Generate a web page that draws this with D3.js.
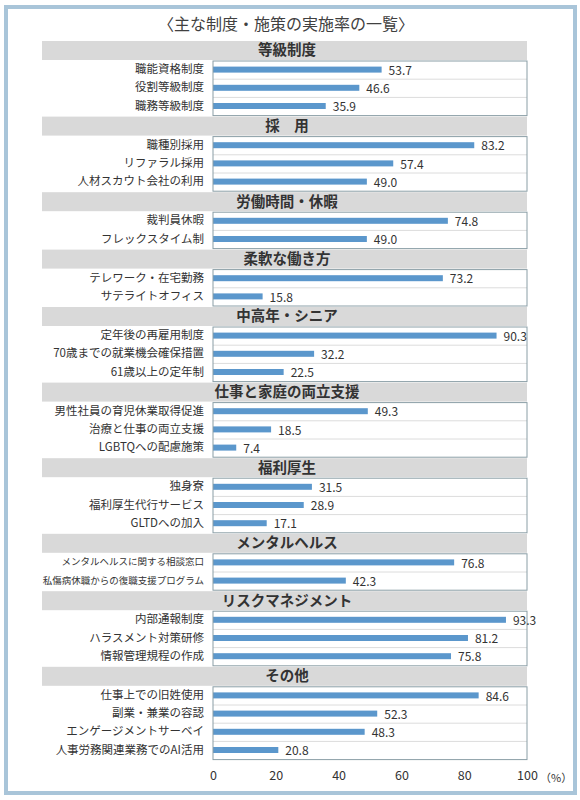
<!DOCTYPE html>
<html>
<head>
<meta charset="utf-8">
<script src="https://cdn.jsdelivr.net/npm/d3@7"></script>
<style>
  body { margin: 0; background: #fff; }
  svg text { font-family: "Noto Sans CJK JP", "Noto Sans", sans-serif; fill: #333; }
</style>
</head>
<body>
<div class="chart"></div>
<script>
var groupNames = ["等級制度", "採　用", "労働時間・休暇", "柔軟な働き方", "中高年・シニア",
  "仕事と家庭の両立支援", "福利厚生", "メンタルヘルス", "リスクマネジメント", "その他"];

var itemGroup = [0, 0, 0, 1, 1, 1, 2, 2, 3, 3, 4, 4, 4, 5, 5, 5, 6, 6, 6, 7, 7, 8, 8, 8, 9, 9, 9, 9];

var itemLabels = [
  "職能資格制度", "役割等級制度", "職務等級制度",
  "職種別採用", "リファラル採用", "人材スカウト会社の利用",
  "裁判員休暇", "フレックスタイム制",
  "テレワーク・在宅勤務", "サテライトオフィス",
  "定年後の再雇用制度", "70歳までの就業機会確保措置", "61歳以上の定年制",
  "男性社員の育児休業取得促進", "治療と仕事の両立支援", "LGBTQへの配慮施策",
  "独身寮", "福利厚生代行サービス", "GLTDへの加入",
  "メンタルヘルスに関する相談窓口", "私傷病休職からの復職支援プログラム",
  "内部通報制度", "ハラスメント対策研修", "情報管理規程の作成",
  "仕事上での旧姓使用", "副業・兼業の容認", "エンゲージメントサーベイ", "人事労務関連業務でのAI活用"
];

var values = [
  53.7, 46.6, 35.9,
  83.2, 57.4, 49.0,
  74.8, 49.0,
  73.2, 15.8,
  90.3, 32.2, 22.5,
  49.3, 18.5, 7.4,
  31.5, 28.9, 17.1,
  76.8, 42.3,
  93.3, 81.2, 75.8,
  84.6, 52.3, 48.3, 20.8
];

var xTicks = [0, 20, 40, 60, 80, 100];

var W = 580, H = 800;
var left = 213, right = 527, headLeft = 42;
var top0 = 41, headH = 19, rowH = 18.2;

var svg = d3.select(".chart").append("svg")
  .attr("width", W)
  .attr("height", H);

// outer frame
svg.append("rect")
  .attr("x", 6).attr("y", 7)
  .attr("width", 569).attr("height", 786)
  .attr("fill", "none")
  .attr("stroke", "#a9c5d9")
  .attr("stroke-width", 4);

svg.append("text")
  .attr("x", W / 2 - 4).attr("y", 26)
  .attr("text-anchor", "middle")
  .attr("dominant-baseline", "middle")
  .style("font-size", "16px")
  .style("fill", "#404040")
  .text("〈主な制度・施策の実施率の一覧〉");

var x = d3.scaleLinear().domain([0, 100]).range([left, right]);

// build group blocks
var blocks = [];
var y = top0;
groupNames.forEach(function(name, gi) {
  var idx = d3.range(values.length).filter(function(i) { return itemGroup[i] === gi; });
  var b = { name: name, headY: y, items: idx };
  y += headH + 1;
  b.boxY = y;
  b.boxH = idx.length * rowH;
  y += b.boxH + 1;
  blocks.push(b);
});
var bottomY = y;

var g = svg.selectAll(".block")
  .data(blocks)
  .enter().append("g")
  .attr("class", "block");

g.append("rect")
  .attr("x", headLeft)
  .attr("y", function(d) { return d.headY; })
  .attr("width", right - headLeft)
  .attr("height", headH)
  .attr("fill", "#d9d9d9");

g.append("text")
  .attr("x", (left + right) / 2 - 83)
  .attr("y", function(d) { return d.headY + headH / 2 + 1; })
  .attr("text-anchor", "middle")
  .attr("dominant-baseline", "middle")
  .style("font-size", "14.5px")
  .style("font-weight", "bold")
  .text(function(d) { return d.name; });

g.each(function(b) {
  var sel = d3.select(this);
  var yb = d3.scaleBand()
    .domain(b.items)
    .range([b.boxY, b.boxY + b.boxH]);

  // row separators
  sel.selectAll(".sep")
    .data(b.items.slice(1))
    .enter().append("line")
    .attr("x1", left).attr("x2", right)
    .attr("y1", function(i) { return yb(i); })
    .attr("y2", function(i) { return yb(i); })
    .attr("stroke", "#dcdcdc");

  sel.selectAll(".bar")
    .data(b.items)
    .enter().append("rect")
    .attr("x", x(0))
    .attr("y", function(i) { return yb(i) + yb.bandwidth() / 2 - 3.5; })
    .attr("width", function(i) { return x(values[i]) - x(0); })
    .attr("height", 6)
    .attr("fill", "#5b97cc");

  sel.append("rect")
    .attr("x", left).attr("y", b.boxY)
    .attr("width", right - left).attr("height", b.boxH)
    .attr("fill", "none")
    .attr("stroke", "#8a9ea6");

  sel.selectAll(".lbl")
    .data(b.items)
    .enter().append("text")
    .attr("x", left - 9)
    .attr("y", function(i) { return yb(i) + yb.bandwidth() / 2; })
    .attr("text-anchor", "end")
    .attr("dominant-baseline", "middle")
    .style("font-size", function(i) { return itemGroup[i] === 7 ? "9.5px" : "11.5px"; })
    .text(function(i) { return itemLabels[i]; });

  sel.selectAll(".val")
    .data(b.items)
    .enter().append("text")
    .attr("x", function(i) { return x(values[i]) + 7; })
    .attr("y", function(i) { return yb(i) + yb.bandwidth() / 2 + 1.5; })
    .attr("dominant-baseline", "middle")
    .style("font-size", "12px")
    .text(function(i) { return values[i].toFixed(1); });
});

// x axis labels
var axis = svg.append("g")
  .attr("transform", "translate(0," + (bottomY + 11) + ")")
  .call(d3.axisBottom(x).tickValues(xTicks).tickSize(0).tickPadding(0));
axis.select(".domain").remove();
axis.selectAll("text")
  .style("font-size", "12.5px")
  .style("font-family", "\"Noto Sans CJK JP\", sans-serif")
  .attr("fill", "#333");

svg.append("text")
  .attr("x", x(100) + 13)
  .attr("y", bottomY + 18)
  .attr("dominant-baseline", "middle")
  .style("font-size", "11px")
  .text("（%）");
</script>
</body>
</html>
